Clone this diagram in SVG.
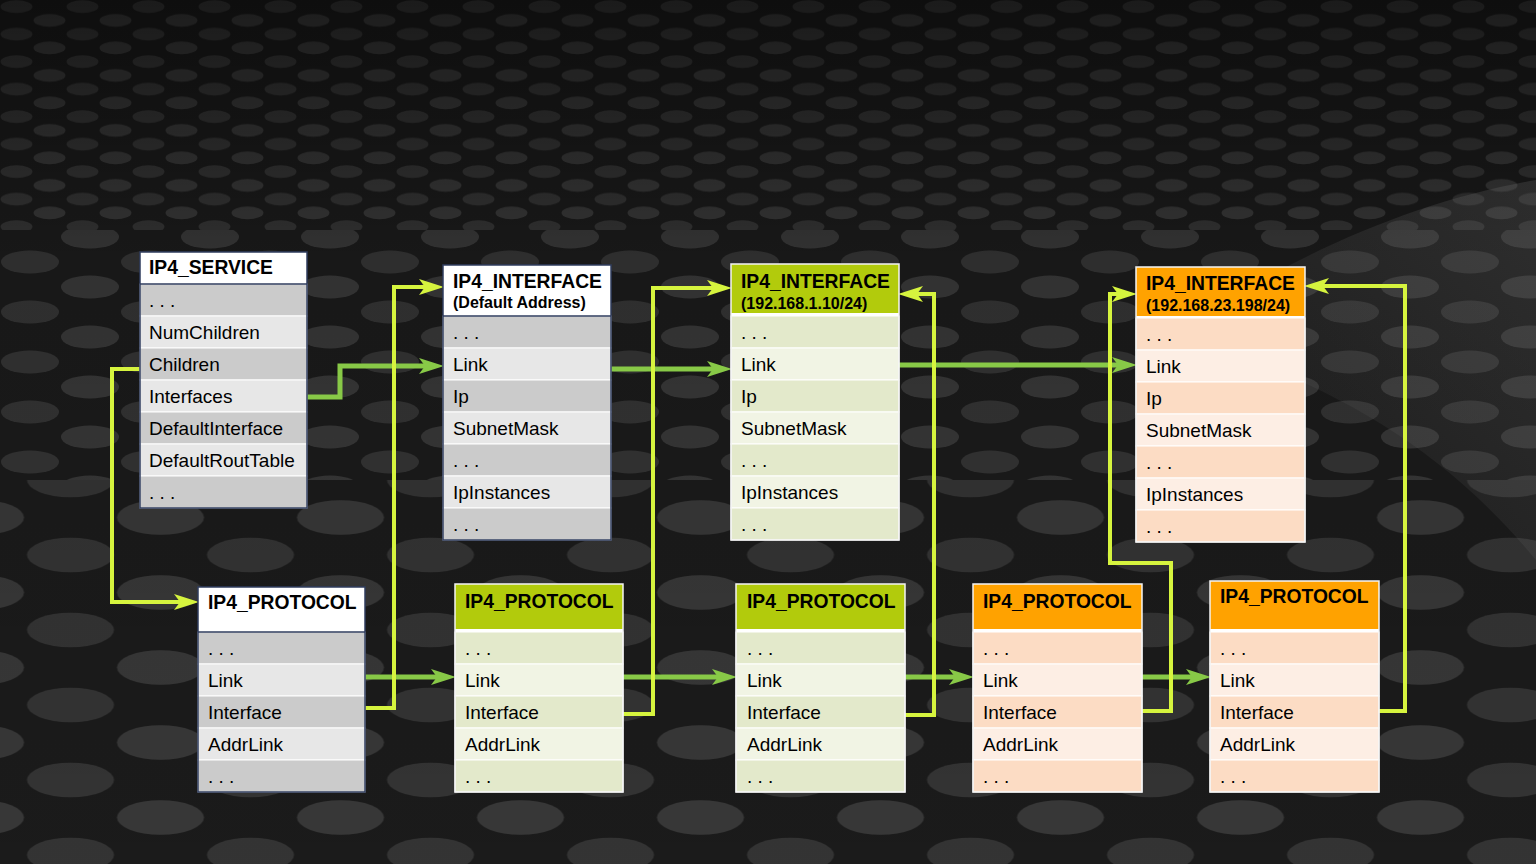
<svg xmlns="http://www.w3.org/2000/svg" width="1536" height="864" viewBox="0 0 1536 864">
<defs>
<style>
text{font-family:"Liberation Sans",Arial,sans-serif;fill:#000}
.t{font-size:19.3px;font-weight:bold}
.s{font-size:16px;font-weight:bold}
.r{font-size:19px}
.gd{fill:#cbcbcb;stroke:#fff;stroke-width:1}
.gl{fill:#e7e7e7;stroke:#fff;stroke-width:1}
.ed{fill:#e3e9cb;stroke:#fff;stroke-width:1}
.el{fill:#f1f4e4;stroke:#fff;stroke-width:1}
.od{fill:#fcdcc4;stroke:#fff;stroke-width:1}
.ol{fill:#fdeee4;stroke:#fff;stroke-width:1}
.hw{fill:#fff}
.hg{fill:#b2cb0c}
.ho{fill:#ffa200}
.bn{fill:none;stroke:#2f3d5e;stroke-width:1.5}
.bw{fill:none;stroke:#f4f4f4;stroke-width:1.5}
.cy{fill:none;stroke:#d6f43e;stroke-width:4;marker-end:url(#ay)}
.cg{fill:none;stroke:#88c947;stroke-width:5;marker-end:url(#ag)}
</style>
<marker id="ay" markerUnits="userSpaceOnUse" markerWidth="26" markerHeight="16" refX="12" refY="8" orient="auto">
<path d="M0,0 L25,8 L0,16 L6,8 z" fill="#d6f43e"/>
</marker>
<marker id="ag" markerUnits="userSpaceOnUse" markerWidth="26" markerHeight="16" refX="12" refY="8" orient="auto">
<path d="M0,0 L25,8 L0,16 L6,8 z" fill="#88c947"/>
</marker>
<pattern id="st" width="120" height="50" patternUnits="userSpaceOnUse">
<rect width="120" height="50" fill="#1c1c1c"/>
<ellipse cx="30" cy="12" rx="29" ry="11.5" fill="#363636"/>
<ellipse cx="90" cy="37" rx="29" ry="11.5" fill="#3a3a3a"/>
<ellipse cx="-30" cy="37" rx="29" ry="11.5" fill="#3a3a3a"/>
<ellipse cx="150" cy="12" rx="29" ry="11.5" fill="#363636"/>
</pattern>
<pattern id="st2" href="#st" patternTransform="scale(0.55)"/>
<pattern id="st3" href="#st" patternTransform="scale(1.5) translate(17,8)"/>
<linearGradient id="dk" x1="0" y1="0" x2="0" y2="1">
<stop offset="0" stop-color="#000" stop-opacity="0.5"/>
<stop offset="0.3" stop-color="#000" stop-opacity="0.15"/>
<stop offset="1" stop-color="#000" stop-opacity="0.05"/>
</linearGradient>
<linearGradient id="sw" x1="0" y1="1" x2="1" y2="0">
<stop offset="0" stop-color="#888" stop-opacity="0"/>
<stop offset="0.6" stop-color="#888" stop-opacity="0.12"/>
<stop offset="1" stop-color="#888" stop-opacity="0.2"/>
</linearGradient>
</defs>

<g id="background">
<rect width="1536" height="864" fill="#262626"/>
<rect width="1536" height="230" fill="url(#st2)"/>
<rect y="230" width="1536" height="250" fill="url(#st)"/>
<rect y="480" width="1536" height="384" fill="url(#st3)"/>
<rect width="1536" height="864" fill="url(#dk)"/>
<path d="M1180,330 C1300,250 1420,200 1536,180 L1536,560 C1420,420 1300,380 1180,330 z" fill="url(#sw)"/>
</g>

<g id="connectors">
<path class="cy" d="M140,369 H112 V602 H186"/>
<path class="cg" d="M307,397 H340 V366 H431"/>
<path class="cg" d="M365,677 H443"/>
<path class="cy" d="M365,708 H394 V287 H431"/>
<path class="cg" d="M611,369 H719"/>
<path class="cg" d="M623,677 H724"/>
<path class="cy" d="M623,714 H653 V288 H719"/>
<path class="cg" d="M899,365 H1124"/>
<path class="cg" d="M905,677 H961"/>
<path class="cy" d="M905,715 H934 V294 H911"/>
<path class="cg" d="M1142,677 H1198"/>
<path class="cy" d="M1142,711 H1171 V563 H1110 V294 H1124"/>
<path class="cy" d="M1379,711 H1405 V286 H1317"/>
</g>

<g id="ip4-service">
<rect class="hw" x="140" y="252" width="167" height="32"/>
<rect class="gd" x="140" y="284" width="167" height="32"/>
<rect class="gl" x="140" y="316" width="167" height="32"/>
<rect class="gd" x="140" y="348" width="167" height="32"/>
<rect class="gl" x="140" y="380" width="167" height="32"/>
<rect class="gd" x="140" y="412" width="167" height="32"/>
<rect class="gl" x="140" y="444" width="167" height="32"/>
<rect class="gd" x="140" y="476" width="167" height="32"/>
<rect class="bn" x="140" y="252" width="167" height="256"/>
<line x1="140" y1="284" x2="307" y2="284" stroke="#2f3d5e" stroke-width="1.5"/>
<text class="t" x="149" y="274">IP4_SERVICE</text>
<text class="r" x="149" y="307">. . .</text>
<text class="r" x="149" y="339">NumChildren</text>
<text class="r" x="149" y="371">Children</text>
<text class="r" x="149" y="403">Interfaces</text>
<text class="r" x="149" y="435">DefaultInterface</text>
<text class="r" x="149" y="467">DefaultRoutTable</text>
<text class="r" x="149" y="499">. . .</text>
</g>

<g id="ip4-interface-default">
<rect class="hw" x="443" y="265" width="168" height="51"/>
<rect class="gd" x="443" y="316" width="168" height="32"/>
<rect class="gl" x="443" y="348" width="168" height="32"/>
<rect class="gd" x="443" y="380" width="168" height="32"/>
<rect class="gl" x="443" y="412" width="168" height="32"/>
<rect class="gd" x="443" y="444" width="168" height="32"/>
<rect class="gl" x="443" y="476" width="168" height="32"/>
<rect class="gd" x="443" y="508" width="168" height="32"/>
<rect class="bn" x="443" y="265" width="168" height="275"/>
<line x1="443" y1="316" x2="611" y2="316" stroke="#2f3d5e" stroke-width="1.5"/>
<text class="t" x="453" y="288">IP4_INTERFACE</text>
<text class="s" x="453" y="308">(Default Address)</text>
<text class="r" x="453" y="339">. . .</text>
<text class="r" x="453" y="371">Link</text>
<text class="r" x="453" y="403">Ip</text>
<text class="r" x="453" y="435">SubnetMask</text>
<text class="r" x="453" y="467">. . .</text>
<text class="r" x="453" y="499">IpInstances</text>
<text class="r" x="453" y="531">. . .</text>
</g>

<g id="ip4-interface-green">
<rect x="731" y="264" width="168" height="276" fill="#fff"/>
<rect class="hg" x="731" y="264" width="168" height="49"/>
<rect class="ed" x="731" y="316" width="168" height="32"/>
<rect class="el" x="731" y="348" width="168" height="32"/>
<rect class="ed" x="731" y="380" width="168" height="32"/>
<rect class="el" x="731" y="412" width="168" height="32"/>
<rect class="ed" x="731" y="444" width="168" height="32"/>
<rect class="el" x="731" y="476" width="168" height="32"/>
<rect class="ed" x="731" y="508" width="168" height="32"/>
<rect class="bw" x="731" y="264" width="168" height="276"/>
<text class="t" x="741" y="288">IP4_INTERFACE</text>
<text class="s" x="741" y="309">(192.168.1.10/24)</text>
<text class="r" x="741" y="339">. . .</text>
<text class="r" x="741" y="371">Link</text>
<text class="r" x="741" y="403">Ip</text>
<text class="r" x="741" y="435">SubnetMask</text>
<text class="r" x="741" y="467">. . .</text>
<text class="r" x="741" y="499">IpInstances</text>
<text class="r" x="741" y="531">. . .</text>
</g>

<g id="ip4-interface-orange">
<rect x="1136" y="267" width="169" height="275" fill="#fff"/>
<rect class="ho" x="1136" y="267" width="169" height="49"/>
<rect class="od" x="1136" y="318" width="169" height="32"/>
<rect class="ol" x="1136" y="350" width="169" height="32"/>
<rect class="od" x="1136" y="382" width="169" height="32"/>
<rect class="ol" x="1136" y="414" width="169" height="32"/>
<rect class="od" x="1136" y="446" width="169" height="32"/>
<rect class="ol" x="1136" y="478" width="169" height="32"/>
<rect class="od" x="1136" y="510" width="169" height="32"/>
<rect class="bw" x="1136" y="267" width="169" height="275"/>
<text class="t" x="1146" y="290">IP4_INTERFACE</text>
<text class="s" x="1146" y="311">(192.168.23.198/24)</text>
<text class="r" x="1146" y="341">. . .</text>
<text class="r" x="1146" y="373">Link</text>
<text class="r" x="1146" y="405">Ip</text>
<text class="r" x="1146" y="437">SubnetMask</text>
<text class="r" x="1146" y="469">. . .</text>
<text class="r" x="1146" y="501">IpInstances</text>
<text class="r" x="1146" y="533">. . .</text>
</g>

<g id="ip4-protocol-0">
<rect class="hw" x="198" y="587" width="167" height="45"/>
<rect class="gd" x="198" y="632" width="167" height="32"/>
<rect class="gl" x="198" y="664" width="167" height="32"/>
<rect class="gd" x="198" y="696" width="167" height="32"/>
<rect class="gl" x="198" y="728" width="167" height="32"/>
<rect class="gd" x="198" y="760" width="167" height="32"/>
<rect class="bn" x="198" y="587" width="167" height="205"/>
<line x1="198" y1="632" x2="365" y2="632" stroke="#2f3d5e" stroke-width="1.5"/>
<text class="t" x="208" y="609">IP4_PROTOCOL</text>
<text class="r" x="208" y="655">. . .</text>
<text class="r" x="208" y="687">Link</text>
<text class="r" x="208" y="719">Interface</text>
<text class="r" x="208" y="751">AddrLink</text>
<text class="r" x="208" y="783">. . .</text>
</g>

<g id="ip4-protocol-1">
<rect x="455" y="584" width="168" height="208" fill="#fff"/>
<rect class="hg" x="455" y="584" width="168" height="45"/>
<rect class="ed" x="455" y="632" width="168" height="32"/>
<rect class="el" x="455" y="664" width="168" height="32"/>
<rect class="ed" x="455" y="696" width="168" height="32"/>
<rect class="el" x="455" y="728" width="168" height="32"/>
<rect class="ed" x="455" y="760" width="168" height="32"/>
<rect class="bw" x="455" y="584" width="168" height="208"/>
<text class="t" x="465" y="608">IP4_PROTOCOL</text>
<text class="r" x="465" y="655">. . .</text>
<text class="r" x="465" y="687">Link</text>
<text class="r" x="465" y="719">Interface</text>
<text class="r" x="465" y="751">AddrLink</text>
<text class="r" x="465" y="783">. . .</text>
</g>

<g id="ip4-protocol-2">
<rect x="736" y="584" width="169" height="208" fill="#fff"/>
<rect class="hg" x="736" y="584" width="169" height="45"/>
<rect class="ed" x="736" y="632" width="169" height="32"/>
<rect class="el" x="736" y="664" width="169" height="32"/>
<rect class="ed" x="736" y="696" width="169" height="32"/>
<rect class="el" x="736" y="728" width="169" height="32"/>
<rect class="ed" x="736" y="760" width="169" height="32"/>
<rect class="bw" x="736" y="584" width="169" height="208"/>
<text class="t" x="747" y="608">IP4_PROTOCOL</text>
<text class="r" x="747" y="655">. . .</text>
<text class="r" x="747" y="687">Link</text>
<text class="r" x="747" y="719">Interface</text>
<text class="r" x="747" y="751">AddrLink</text>
<text class="r" x="747" y="783">. . .</text>
</g>

<g id="ip4-protocol-3">
<rect x="973" y="584" width="169" height="208" fill="#fff"/>
<rect class="ho" x="973" y="584" width="169" height="45"/>
<rect class="od" x="973" y="632" width="169" height="32"/>
<rect class="ol" x="973" y="664" width="169" height="32"/>
<rect class="od" x="973" y="696" width="169" height="32"/>
<rect class="ol" x="973" y="728" width="169" height="32"/>
<rect class="od" x="973" y="760" width="169" height="32"/>
<rect class="bw" x="973" y="584" width="169" height="208"/>
<text class="t" x="983" y="608">IP4_PROTOCOL</text>
<text class="r" x="983" y="655">. . .</text>
<text class="r" x="983" y="687">Link</text>
<text class="r" x="983" y="719">Interface</text>
<text class="r" x="983" y="751">AddrLink</text>
<text class="r" x="983" y="783">. . .</text>
</g>

<g id="ip4-protocol-4">
<rect x="1210" y="581" width="169" height="211" fill="#fff"/>
<rect class="ho" x="1210" y="581" width="169" height="48"/>
<rect class="od" x="1210" y="632" width="169" height="32"/>
<rect class="ol" x="1210" y="664" width="169" height="32"/>
<rect class="od" x="1210" y="696" width="169" height="32"/>
<rect class="ol" x="1210" y="728" width="169" height="32"/>
<rect class="od" x="1210" y="760" width="169" height="32"/>
<rect class="bw" x="1210" y="581" width="169" height="211"/>
<text class="t" x="1220" y="603">IP4_PROTOCOL</text>
<text class="r" x="1220" y="655">. . .</text>
<text class="r" x="1220" y="687">Link</text>
<text class="r" x="1220" y="719">Interface</text>
<text class="r" x="1220" y="751">AddrLink</text>
<text class="r" x="1220" y="783">. . .</text>
</g>
</svg>
